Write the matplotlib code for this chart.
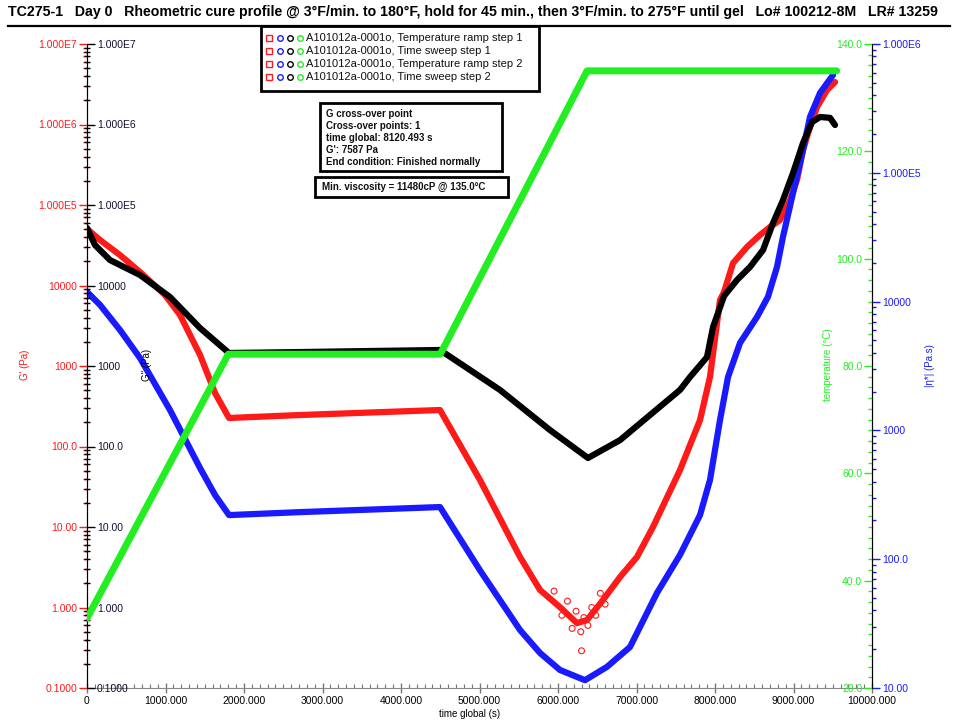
import numpy as np
import matplotlib
matplotlib.use('Agg')
import matplotlib.pyplot as plt
from matplotlib.ticker import FixedLocator, FixedFormatter, MultipleLocator, LogLocator, NullFormatter
from matplotlib.patches import Rectangle

plt.rcParams['font.family'] = ['Liberation Sans', 'DejaVu Sans']

# ---------------- data ----------------
# G' (Pa), red
t_gp = [0, 166, 420, 675, 994, 1185, 1440, 1631, 1809, 2713, 4497, 5006, 5516, 5771,
        6025, 6242, 6370, 6573, 6790, 7006, 7210, 7554, 7809, 7936, 8064, 8115, 8230,
        8408, 8573, 8701, 8828, 8956, 9045, 9121, 9210, 9300, 9427, 9529]
gp = [50400, 36700, 23900, 14700, 7620, 4300, 1370, 462, 226, 246, 284, 38.4, 4.24, 1.65,
      1.01, 0.64, 0.70, 1.24, 2.39, 4.24, 10, 51, 213, 730, 6600, 8300, 19000,
      30100, 42400, 53300, 65100, 115000, 205000, 482000, 931000, 1.65e6, 2.68e6, 3.37e6]
# scattered G' points around the minimum
t_gp_sc = [5950, 6050, 6120, 6180, 6230, 6290, 6330, 6380, 6430, 6480, 6540, 6600, 6300]
gp_sc = [1.6, 0.8, 1.2, 0.55, 0.9, 0.5, 0.75, 0.6, 1.0, 0.8, 1.5, 1.1, 0.29]

# G'' (Pa), black
t_gpp = [0, 102, 293, 675, 1057, 1440, 1809, 2713, 4497, 5261, 5898, 6382, 6790, 7172,
         7554, 7682, 7898, 7975, 8115, 8280, 8446, 8612, 8739, 8866, 8994, 9121, 9236,
         9338, 9465, 9529]
gpp = [51800, 31800, 20700, 13500, 7200, 2960, 1450, 1490, 1580, 504, 160, 72, 120, 246,
       504, 730, 1290, 3050, 7400, 11700, 17000, 27600, 59700, 115000, 250000, 589000, 1.07e6,
       1.24e6, 1.21e6, 986000]

# |eta*| (Pa.s), blue
t_eta = [0, 166, 420, 675, 1057, 1440, 1631, 1809, 2713, 4497, 5006, 5516, 5771, 6025,
         6344, 6624, 6917, 7261, 7554, 7809, 7936, 8064, 8166, 8319, 8535, 8675, 8790,
         8866, 8994, 9121, 9210, 9338, 9503]
eta = [11900, 9420, 6020, 3650, 1440, 510, 315, 220, 232, 254, 82, 28.2, 18.7, 13.8,
       11.5, 14.6, 20.8, 54.7, 108, 220, 412, 1205, 2600, 4780, 7590, 10900, 18600,
       31800, 69700, 150000, 271000, 417000, 574000]

# temperature (°C), green
t_temp = [0, 1800, 4500, 6370, 9550]
temp = [33.0, 82.2, 82.2, 135.0, 135.0]

x_ticks = [0, 1000, 2000, 3000, 4000, 5000, 6000, 7000, 8000, 9000, 10000]
x_labels = ['0', '1000.000', '2000.000', '3000.000', '4000.000', '5000.000', '6000.000',
            '7000.000', '8000.000', '9000.000', '10000.000']
g_ticks = [0.1, 1, 10, 100, 1000, 1e4, 1e5, 1e6, 1e7]
g_labels = ['0.1000', '1.000', '10.00', '100.0', '1000', '10000', '1.000E5', '1.000E6', '1.000E7']
t_ticks = [20, 40, 60, 80, 100, 120, 140]
t_labels = ['20.0', '40.0', '60.0', '80.0', '100.0', '120.0', '140.0']
e_ticks = [10, 100, 1000, 1e4, 1e5, 1e6]
e_labels = ['10.00', '100.0', '1000', '10000', '1.000E5', '1.000E6']

legend_labels = ['A101012a-0001o, Temperature ramp step 1',
                 'A101012a-0001o, Time sweep step 1',
                 'A101012a-0001o, Temperature ramp step 2',
                 'A101012a-0001o, Time sweep step 2']
info_lines = ['G cross-over point', 'Cross-over points: 1', 'time global: 8120.493 s',
              "G': 7587 Pa", 'End condition: Finished normally']
min_visc = 'Min. viscosity = 11480cP @ 135.0°C'
title = ('TC275-1   Day 0   Rheometric cure profile @ 3°F/min. to 180°F, hold for 45 min., '
         'then 3°F/min. to 275°F until gel   Lo# 100212-8M   LR# 13259')

RED, BLUE, GREEN, BLACK = '#ff1a1a', '#1a1aff', '#22ee22', '#000000'

# ---------------- figure ----------------
W, H = 959, 724
fig = plt.figure(figsize=(W / 100, H / 100), dpi=100)
L, R, B, T = 87, 872, 688, 44
ax = fig.add_axes([L / W, 1 - B / H, (R - L) / W, (B - T) / H])
ax.set_facecolor('none')

LW = 4.5
TS = 7.5

# red G' axis (left, labels outside)
ax.set_xlim(0, 10000)
ax.set_yscale('log')
ax.set_ylim(0.1, 1e7)
ax.plot(t_gp, gp, color=RED, lw=LW, solid_capstyle='round', solid_joinstyle='round')
ax.scatter(t_gp_sc, gp_sc, s=18, facecolors='none', edgecolors=RED, linewidths=0.8)
for s in ['top', 'right']:
    ax.spines[s].set_visible(False)
ax.spines['bottom'].set_color('#888888')
ax.spines['left'].set_color('black')
ax.yaxis.set_major_locator(FixedLocator(g_ticks))
ax.yaxis.set_major_formatter(FixedFormatter(g_labels))
ax.yaxis.set_minor_locator(LogLocator(base=10, subs=np.arange(2, 10)))
ax.yaxis.set_minor_formatter(NullFormatter())
ax.tick_params(axis='y', which='major', direction='out', length=6, width=1, color=RED,
               labelcolor=RED, labelsize=TS, pad=1)
ax.tick_params(axis='y', which='minor', direction='out', length=3, width=1, color=RED)
ax.xaxis.set_major_locator(FixedLocator(x_ticks))
ax.xaxis.set_major_formatter(FixedFormatter(x_labels))
ax.xaxis.set_minor_locator(MultipleLocator(100))
ax.tick_params(axis='x', which='major', direction='inout', length=7, width=1, color='#777777',
               labelsize=TS, pad=2)
ax.tick_params(axis='x', which='minor', direction='in', length=3, width=0.8, color='#777777')

# blue |eta*| axis (right, labels outside)
axe = ax.twinx()
axe.set_yscale('log')
axe.set_ylim(10, 1e6)
axe.plot(t_eta, eta, color=BLUE, lw=LW, solid_capstyle='round', solid_joinstyle='round')
for s in ['top', 'left', 'bottom']:
    axe.spines[s].set_visible(False)
axe.spines['right'].set_color('black')
axe.yaxis.set_major_locator(FixedLocator(e_ticks))
axe.yaxis.set_major_formatter(FixedFormatter(e_labels))
axe.yaxis.set_minor_locator(LogLocator(base=10, subs=np.arange(2, 10)))
axe.yaxis.set_minor_formatter(NullFormatter())
axe.tick_params(axis='y', which='major', direction='out', length=6, width=1, color=BLUE,
                labelcolor=BLUE, labelsize=TS, pad=1)
axe.tick_params(axis='y', which='minor', direction='out', length=3, width=1, color=BLUE)

# black G'' axis (labels to the right of the left spine)
axb = ax.twinx()
axb.set_yscale('log')
axb.set_ylim(0.1, 1e7)
axb.plot(t_gpp, gpp, color=BLACK, lw=LW, solid_capstyle='round', solid_joinstyle='round')
for s in ['top', 'left', 'bottom']:
    axb.spines[s].set_visible(False)
axb.spines['right'].set_position(('axes', 0.0))
axb.spines['right'].set_color('black')
axb.yaxis.set_ticks_position('right')
axb.yaxis.set_major_locator(FixedLocator(g_ticks))
axb.yaxis.set_major_formatter(FixedFormatter(g_labels))
axb.yaxis.set_minor_locator(LogLocator(base=10, subs=np.arange(2, 10)))
axb.yaxis.set_minor_formatter(NullFormatter())
axb.tick_params(axis='y', which='major', direction='out', length=6, width=1, color=BLACK,
                labelcolor='#111133', labelsize=TS, pad=1)
axb.tick_params(axis='y', which='minor', direction='inout', length=5, width=1, color=BLACK)

# green temperature axis (labels to the left of the right spine)
axt = ax.twinx()
axt.set_ylim(20, 140)
axt.plot(t_temp, temp, color=GREEN, lw=LW + 0.5, solid_capstyle='round', solid_joinstyle='round')
for s in ['top', 'right', 'bottom']:
    axt.spines[s].set_visible(False)
axt.spines['left'].set_position(('axes', 1.0))
axt.spines['left'].set_color('black')
axt.yaxis.set_ticks_position('left')
axt.yaxis.set_major_locator(FixedLocator(t_ticks))
axt.yaxis.set_major_formatter(FixedFormatter(t_labels))
axt.yaxis.set_minor_locator(MultipleLocator(2))
axt.tick_params(axis='y', which='major', direction='out', length=6, width=1, color=GREEN,
                labelcolor=GREEN, labelsize=TS, pad=1)
axt.tick_params(axis='y', which='minor', direction='out', length=3, width=1, color=GREEN)

# axis titles
fig.text(25 / W, 1 - 365 / H, "G' (Pa)", rotation=90, color=RED, fontsize=7, ha='center', va='center')
fig.text(147 / W, 1 - 365 / H, "G'' (Pa)", rotation=90, color=BLACK, fontsize=7, ha='center',
         va='center', zorder=0)
fig.text(828 / W, 1 - 365 / H, 'temperature (°C)', rotation=90, color=GREEN, fontsize=7,
         ha='center', va='center')
fig.text(930 / W, 1 - 366 / H, '|η*| (Pa.s)', rotation=90, color=BLUE, fontsize=7,
         ha='center', va='center')
fig.text(470 / W, 1 - 714 / H, 'time global (s)', fontsize=7, ha='center', va='center')

# title
fig.text(8 / W, 1 - 12 / H, title, fontsize=10.2, fontweight='bold', ha='left', va='center')

# overlay in pixel coordinates for frames / legend / info boxes
ov = fig.add_axes([0, 0, 1, 1], zorder=10)
ov.set_xlim(0, W)
ov.set_ylim(H, 0)
ov.axis('off')
ov.plot([8, 950], [26, 26], color='black', lw=1.6)
ov.add_patch(Rectangle((261, 26), 278, 65, facecolor='white', edgecolor='black', lw=2))
markers = ['s', 'o', 'o', 'o']
mcolors = [RED, BLUE, BLACK, GREEN]
rows_y = [38, 51, 64, 77]
mx = [269, 280, 290, 300]
for yy, lab in zip(rows_y, legend_labels):
    for xx, mk, mc in zip(mx, markers, mcolors):
        ov.plot([xx], [yy], marker=mk, ms=4, mfc='none', mec=mc, mew=1)
    ov.text(306, yy, lab, fontsize=8, va='center', ha='left', color='#111111')

ov.add_patch(Rectangle((320, 103), 182, 68, facecolor='white', edgecolor='black', lw=2))
for i, line in enumerate(info_lines):
    ov.text(326, 114 + i * 12, line, fontsize=7, fontweight='bold', va='center', ha='left',
            color='#111111')
ov.add_patch(Rectangle((315, 177), 193, 20, facecolor='white', edgecolor='black', lw=2))
ov.text(322, 187, min_visc, fontsize=7, fontweight='bold', va='center', ha='left', color='#111111')

fig.savefig('out.png', dpi=100)
